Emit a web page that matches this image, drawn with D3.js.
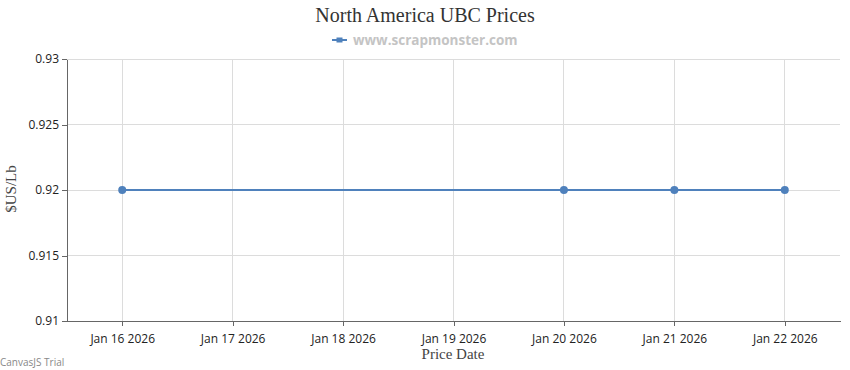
<!DOCTYPE html>
<html><head><meta charset="utf-8">
<script src="https://cdn.jsdelivr.net/npm/d3@7"></script>
<style>body{margin:0;background:#fff}svg{display:block}</style>
</head><body>
<script>
const dates = ["2026-01-16","2026-01-20","2026-01-21","2026-01-22"];
const prices = [0.92,0.92,0.92,0.92];
const yTicks = [0.91,0.915,0.92,0.925,0.93];
const xTickDates = ["2026-01-16","2026-01-17","2026-01-18","2026-01-19","2026-01-20","2026-01-21","2026-01-22"];
const title = "North America UBC Prices";
const seriesName = "www.scrapmonster.com";

const W=850,H=370;
const svg=d3.select("body").append("svg").attr("width",W).attr("height",H);
const parse=d3.utcParse("%Y-%m-%d");
const fmt=d3.utcFormat("%b %-d %Y");
const data=dates.map((d,i)=>({x:parse(d),y:prices[i]}));
const half=12*3600*1000;
const x=d3.scaleUtc().domain([new Date(parse(xTickDates[0]).getTime()-half),new Date(parse(xTickDates[xTickDates.length-1]).getTime()+half)]).range([67,840]);
const y=d3.scaleLinear().domain([0.91,0.93]).range([321,59]);

// gridlines
svg.append("g").selectAll("line.h").data(yTicks.slice(1)).join("line")
 .attr("x1",67).attr("x2",840).attr("y1",d=>y(d)).attr("y2",d=>y(d)).attr("stroke","#dcdcdc").attr("stroke-width",1).attr("shape-rendering","crispEdges");
svg.append("g").selectAll("line.v").data(xTickDates.map(parse)).join("line")
 .attr("x1",d=>x(d)).attr("x2",d=>x(d)).attr("y1",59).attr("y2",321).attr("stroke","#dcdcdc").attr("stroke-width",1).attr("shape-rendering","crispEdges");

// axes
const xAxis=svg.append("g").attr("transform","translate(0,321)")
 .call(d3.axisBottom(x).tickValues(xTickDates.map(parse)).tickFormat(fmt).tickSize(5).tickSizeOuter(0));
const yAxis=svg.append("g").attr("transform","translate(67,0)")
 .call(d3.axisLeft(y).tickValues(yTicks).tickFormat(d=>String(+d.toFixed(3))).tickSize(5).tickSizeOuter(0));
[xAxis,yAxis].forEach(a=>{
 a.selectAll(".domain").attr("stroke","#666").attr("shape-rendering","crispEdges");
 a.selectAll(".tick line").attr("stroke","#666").attr("shape-rendering","crispEdges");
 a.selectAll("text").attr("fill","#222").style("font-family","'Open Sans', 'DejaVu Sans', sans-serif").style("font-size","12px");
});
xAxis.selectAll("text").attr("dy","0.71em").attr("y",13);
yAxis.selectAll("text").attr("x",-8);

// line
svg.append("path").datum(data).attr("fill","none").attr("stroke","#4f81bc").attr("stroke-width",2)
 .attr("d",d3.line().x(d=>x(d.x)).y(d=>y(d.y)));
svg.append("g").selectAll("circle").data(data).join("circle")
 .attr("cx",d=>x(d.x)).attr("cy",d=>y(d.y)).attr("r",4).attr("fill","#4f81bc");

// title
svg.append("text").attr("x",425).attr("y",22).attr("text-anchor","middle")
 .style("font-family","'Liberation Serif','DejaVu Serif',serif").style("font-size","20px").attr("fill","#333").text(title);
// legend
const lg=svg.append("g");
lg.append("line").attr("x1",332).attr("x2",347).attr("y1",40).attr("y2",40).attr("stroke","#4f81bc").attr("stroke-width",2);
lg.append("rect").attr("x",336.5).attr("y",37.5).attr("width",6).attr("height",5).attr("fill","#4f81bc");
lg.append("text").attr("x",353).attr("y",45).style("font-family","'Open Sans','DejaVu Sans',sans-serif").style("font-size","13.5px").style("font-weight","bold")
 .attr("fill","#c4c4c4").text(seriesName);

// axis titles
svg.append("text").attr("transform","translate(16,189) rotate(-90)").attr("text-anchor","middle")
 .style("font-family","'Liberation Serif','DejaVu Serif',serif").style("font-size","15px").attr("fill","#444").text("$US/Lb");
svg.append("text").attr("x",453).attr("y",359).attr("text-anchor","middle")
 .style("font-family","'Liberation Serif','DejaVu Serif',serif").style("font-size","15px").attr("fill","#444").text("Price Date");

// watermark
svg.append("text").attr("x",0).attr("y",366).style("font-family","'Open Sans','DejaVu Sans',sans-serif").style("font-size","10px").attr("fill","#888").text("CanvasJS Trial");
</script>
</body></html>
